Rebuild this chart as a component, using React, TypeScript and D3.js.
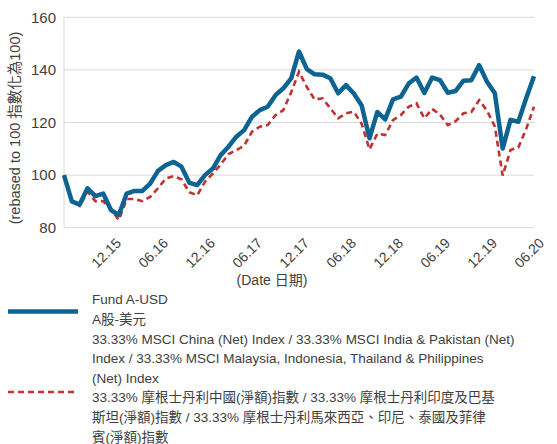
import * as d3 from "d3";

// month-end categories, 06.15 .. 06.20
const months = d3
    .timeMonth.range(new Date(2015, 5, 1), new Date(2020, 6, 1))
    .map(d => d3.timeFormat("%m.%y")(d));

const fundValues = [
    100, 90, 88.8, 95, 92, 93, 86.7, 84.8, 93, 94, 94, 96.8, 101.6, 103.8, 105, 103.2,
    97.1, 96.2, 100, 102.5, 107.6, 110.8, 114.6, 117.1, 122.2, 124.7, 126, 130.4, 133, 136.8,
    147, 140.3, 138.3, 138.2, 136.8, 131.1, 134.2, 131, 126.5, 114, 124, 121.2, 128.8, 129.8,
    134.8, 137.1, 131.2, 137.1, 136.1, 131.3, 132, 135.9, 136.1, 141.8, 135.5, 131.1, 110.1,
    121, 120.3, 129.2, 137.6,
];

const indexValues = [
    100, 90.5, 88.3, 93.7, 90.1, 90.1, 87, 82.9, 90.9, 90.9, 90.1, 91.7, 95, 98.7, 99.6, 98.4,
    93.5, 92.3, 97.5, 100.6, 104, 108, 109.5, 111.2, 116.5, 118.4, 119, 122.8, 124.7, 131.5,
    139.3, 133.5, 128.7, 129.2, 125.4, 121.6, 123.5, 124.1, 119.5, 109.8, 115.8, 115.2, 120.9,
    122.8, 126, 127.3, 121.6, 125.2, 123, 119, 120.5, 123.5, 124, 128.5, 124.5, 118.5, 99.8,
    109.5, 110.5, 117.5, 126,
];

const yTicks = [80, 100, 120, 140, 160];
const xTickLabels = ["12.15", "06.16", "12.16", "06.17", "12.17", "06.18", "12.18", "06.19", "12.19", "06.20"];

const yTitle = "(rebased to 100 指數化為100)";
const xTitle = "(Date 日期)";

const fundLegend = ["Fund A-USD", "A股-美元"];
const indexLegend = [
    "33.33% MSCI China (Net) Index / 33.33% MSCI India & Pakistan (Net)",
    "Index / 33.33% MSCI Malaysia, Indonesia, Thailand & Philippines",
    "(Net) Index",
    "33.33% 摩根士丹利中國(淨額)指數 / 33.33% 摩根士丹利印度及巴基",
    "斯坦(淨額)指數 / 33.33% 摩根士丹利馬來西亞、印尼、泰國及菲律",
    "賓(淨額)指數",
];

const BLUE = "#0d6391";
const RED = "#c0312f";
const TEXT = "#404040";
const GRID = "#d9d9d9";
const FONT = "'Liberation Sans', 'Noto Sans CJK TC', sans-serif";

export default function App() {
    const width = 557;
    const height = 444;
    const plot = { left: 64, right: 534, top: 17.3, bottom: 227.7 };

    const x = d3.scalePoint<string>().domain(months).range([plot.left, plot.right]);
    const y = d3.scaleLinear().domain([80, 160]).range([plot.bottom, plot.top]);

    const line = d3
        .line<number>()
        .x((d, i) => x(months[i]) as number)
        .y(d => y(d));

    const lineH = 19.6;

    return (
        <svg
            width={width}
            height={height}
            style={{ position: "absolute", left: 0, top: 0, display: "block", background: "#fff" }}
            fontFamily={FONT}
        >
            {/* grid */}
            {yTicks.map(t => (
                <g key={t}>
                    <line x1={plot.left} x2={plot.right} y1={y(t)} y2={y(t)} stroke={GRID} strokeWidth={1} />
                    <text x={56} y={y(t)} dy="0.35em" textAnchor="end" fontSize={15} fill={TEXT}>
                        {t}
                    </text>
                </g>
            ))}
            <line x1={plot.left} x2={plot.left} y1={plot.top} y2={plot.bottom} stroke={GRID} strokeWidth={1} />

            {/* x labels */}
            {xTickLabels.map(l => {
                const px = (x(l) as number) + 11;
                return (
                    <text
                        key={l}
                        transform={`translate(${px},244) rotate(-45)`}
                        textAnchor="end"
                        fontSize={14}
                        fill={TEXT}
                    >
                        {l}
                    </text>
                );
            })}

            <text x={272} y={285} textAnchor="middle" fontSize={14} fill={TEXT}>
                {xTitle}
            </text>
            <text transform="translate(20,128) rotate(-90)" textAnchor="middle" fontSize={14.5} fill={TEXT}>
                {yTitle}
            </text>

            {/* series */}
            <path d={line(indexValues) || ""} fill="none" stroke={RED} strokeWidth={2.6} strokeDasharray="6,4" />
            <path d={line(fundValues) || ""} fill="none" stroke={BLUE} strokeWidth={4.5} strokeLinejoin="round" />

            {/* legend */}
            <line x1={8} x2={78} y1={311.5} y2={311.5} stroke={BLUE} strokeWidth={4.5} />
            {fundLegend.map((t, i) => (
                <text key={t} x={92} y={304 + i * lineH} fontSize={13.5} fill={TEXT}>
                    {t}
                </text>
            ))}
            <line x1={8} x2={78} y1={392} y2={392} stroke={RED} strokeWidth={2.6} strokeDasharray="6,4" />
            {indexLegend.map((t, i) => (
                <text key={t} x={92} y={343.5 + i * lineH} fontSize={13.5} fill={TEXT}>
                    {t}
                </text>
            ))}
        </svg>
    );
}
